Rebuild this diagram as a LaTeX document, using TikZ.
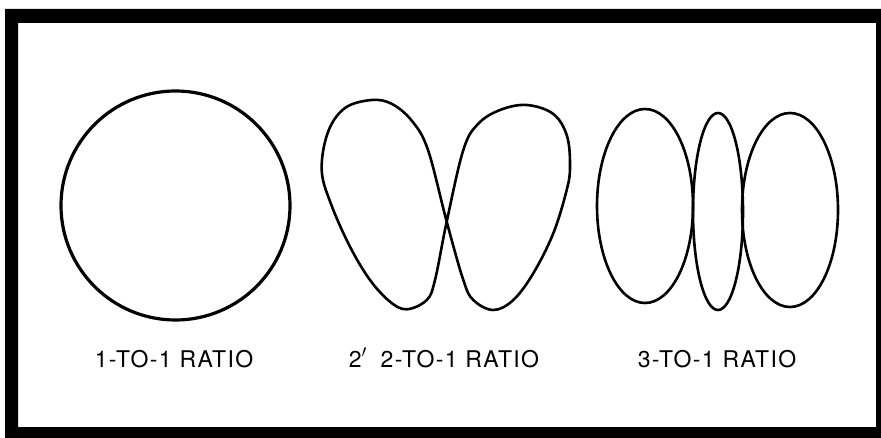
\documentclass[tikz,border=0pt]{standalone}
\usepackage{fontspec}
\setmainfont{TeX Gyre Heros}
\usetikzlibrary{positioning}
\begin{document}
\begin{tikzpicture}[x=1pt, y=-1pt,
  trace/.style={draw=black, line width=2.6pt, line join=round},
  ratio/.style={font=\fontsize{23}{23}\selectfont\addfontfeature{LetterSpace=6},
                inner sep=0pt, anchor=base}
]
  \useasboundingbox (0,0) rectangle (881,438);
  % black frame
  \fill[black, even odd rule] (5,9) rectangle (881,438) (18,23) rectangle (876,427);

  % 1-to-1
  \draw[trace, line width=3.2pt] (175.5,205.5) circle[radius=114.5];

  % 2-to-1
  \draw[trace] plot[smooth cycle, tension=0.6] coordinates {
    (446.7,221.7) (428,150) (412,121) (392,104) (371.7,100) (345,108)
    (328,132) (321.7,170) (331,204) (350,246.7) (370,280) (390,301.7)
    (406.7,309.3) (426.7,300) (435,280)
    (446.7,221.7) (463.3,150) (478,124) (500,110) (526.7,105) (553.3,114)
    (567,136) (570,166.7) (566.7,190) (553.3,233.3) (533.3,273.3) (513.3,300)
    (493.3,310) (473.3,300) (463.3,280)};

  % 3-to-1
  \draw[trace] (645,206) ellipse[x radius=48, y radius=97];
  \draw[trace] (718,211.5) ellipse[x radius=25, y radius=98.5];
  \draw[trace] (790,210) ellipse[x radius=48, y radius=97];

  \node[ratio] (one) at (174,367) {1-TO-1 RATIO};
  \node[ratio] (two) at (444,367) {2$'$\hspace{0.6em}2-TO-1 RATIO};
  \node[ratio] (three) at (717,367) {3-TO-1 RATIO};
\end{tikzpicture}
\end{document}
